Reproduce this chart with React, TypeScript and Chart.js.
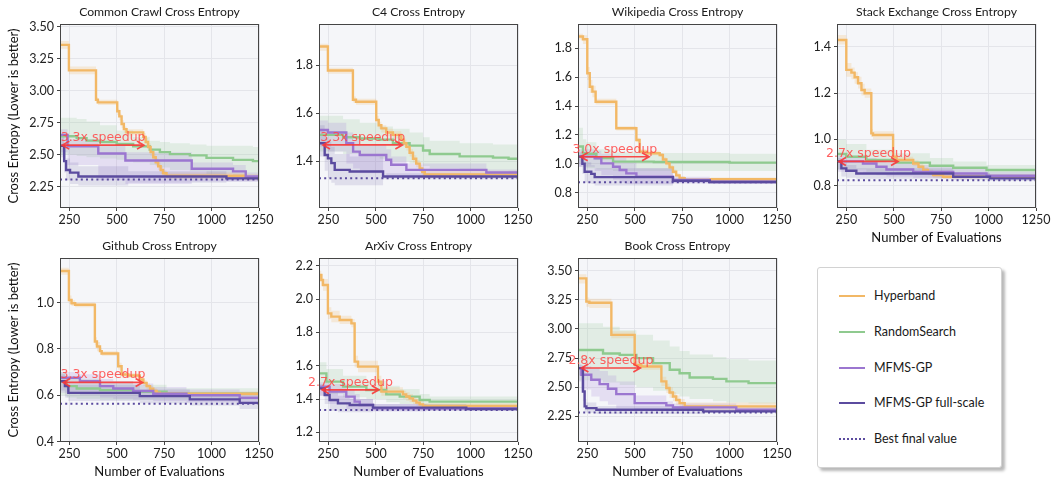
import React, { useEffect, useRef } from 'react';
import { Chart, registerables } from 'chart.js';

Chart.register(...registerables);

// ---------- shared axis / legend data ----------
const xTickValues = [250, 500, 750, 1000, 1250];
const xRange = [200, 1250];
const legendLabels = ['Hyperband', 'RandomSearch', 'MFMS-GP', 'MFMS-GP full-scale', 'Best final value'];
const lineColors = ['#f2b866', '#8fca8f', '#9b76d0', '#5b4b9f'];
const bandColors = ['rgba(242,184,102,0.22)', 'rgba(143,202,143,0.2)', 'rgba(155,118,208,0.18)', 'rgba(91,75,159,0.14)'];
const bestColor = '#5b4b9f';

const panelTitles = [
  'Common Crawl Cross Entropy', 'C4 Cross Entropy', 'Wikipedia Cross Entropy', 'Stack Exchange Cross Entropy',
  'Github Cross Entropy', 'ArXiv Cross Entropy', 'Book Cross Entropy',
];
const yMins = [2.083, 1.205, 0.694, 0.704, 0.398, 1.142, 2.03];
const yMaxs = [3.523, 1.972, 1.968, 1.498, 1.192, 2.246, 3.609];
const yDecimals = [2, 1, 1, 1, 1, 1, 2];
const ccYTicks = [2.25, 2.5, 2.75, 3.0, 3.25, 3.5];
const c4YTicks = [1.4, 1.6, 1.8];
const wikiYTicks = [0.8, 1.0, 1.2, 1.4, 1.6, 1.8];
const stackYTicks = [0.8, 1.0, 1.2, 1.4];
const githubYTicks = [0.4, 0.6, 0.8, 1.0];
const arxivYTicks = [1.2, 1.4, 1.6, 1.8, 2.0, 2.2];
const bookYTicks = [2.25, 2.5, 2.75, 3.0, 3.25, 3.5];

const bestFinalValues = [2.307, 1.329, 0.872, 0.824, 0.563, 1.334, 2.284];
const speedupLabels = ['3.3x speedup', '3.3x speedup', '3.0x speedup', '2.7x speedup', '3.3x speedup', '2.7x speedup', '2.8x speedup'];
const arrowStarts = [212, 221, 214, 210, 217, 216, 218];
const arrowEnds = [643, 640, 575, 522, 636, 516, 529];
const arrowLevels = [2.575, 1.468, 1.049, 0.905, 0.655, 1.455, 2.665];

// each row: [evaluations, mean, lower band, upper band]
// ---- Common Crawl ----
const ccHyperband = [
  [200, 3.36, 3.33, 3.39], [247, 3.16, 3.13, 3.19], [390, 2.93, 2.9, 2.95], [400, 2.91, 2.89, 2.93],
  [502, 2.84, 2.81, 2.86], [513, 2.8, 2.77, 2.82], [525, 2.74, 2.71, 2.77], [537, 2.7, 2.67, 2.72],
  [551, 2.675, 2.65, 2.7], [639, 2.64, 2.61, 2.67], [652, 2.6, 2.57, 2.63], [665, 2.56, 2.53, 2.59],
  [678, 2.52, 2.49, 2.55], [692, 2.48, 2.45, 2.51], [705, 2.44, 2.41, 2.47], [718, 2.41, 2.38, 2.44],
  [731, 2.38, 2.35, 2.41], [744, 2.355, 2.33, 2.38], [762, 2.335, 2.31, 2.36], [1180, 2.325, 2.3, 2.35],
  [1250, 2.325, 2.3, 2.35],
];
const ccRandom = [
  [200, 2.645, 2.5, 2.79], [288, 2.63, 2.49, 2.78], [340, 2.61, 2.48, 2.76], [411, 2.6, 2.47, 2.73],
  [499, 2.585, 2.46, 2.69], [586, 2.565, 2.44, 2.64], [674, 2.54, 2.42, 2.61], [727, 2.52, 2.4, 2.6],
  [780, 2.505, 2.38, 2.59], [885, 2.495, 2.37, 2.58], [973, 2.475, 2.35, 2.57], [1113, 2.46, 2.34, 2.57],
  [1218, 2.45, 2.33, 2.56], [1250, 2.45, 2.33, 2.56],
];
const ccMfms = [
  [200, 2.655, 2.52, 2.7], [240, 2.565, 2.42, 2.62], [402, 2.51, 2.3, 2.57], [545, 2.455, 2.27, 2.52],
  [895, 2.39, 2.29, 2.44], [1113, 2.37, 2.29, 2.42], [1180, 2.33, 2.29, 2.36], [1250, 2.33, 2.29, 2.36],
];
const ccFull = [
  [200, 2.57, 2.48, 2.64], [222, 2.45, 2.36, 2.55], [232, 2.38, 2.3, 2.47], [253, 2.36, 2.27, 2.44],
  [297, 2.33, 2.26, 2.41], [560, 2.33, 2.28, 2.37], [1078, 2.315, 2.29, 2.33], [1250, 2.315, 2.29, 2.33],
];
// ---- C4 ----
const c4Hyperband = [
  [200, 1.878, 1.86, 1.89], [247, 1.778, 1.765, 1.79], [379, 1.656, 1.645, 1.67], [395, 1.648, 1.635, 1.66],
  [502, 1.572, 1.56, 1.59], [515, 1.55, 1.535, 1.565], [529, 1.537, 1.52, 1.55], [555, 1.52, 1.505, 1.535],
  [590, 1.51, 1.495, 1.525], [634, 1.49, 1.475, 1.505], [648, 1.475, 1.46, 1.49], [661, 1.46, 1.445, 1.475],
  [678, 1.435, 1.42, 1.45], [696, 1.41, 1.395, 1.425], [713, 1.39, 1.375, 1.405], [731, 1.37, 1.355, 1.385],
  [745, 1.355, 1.34, 1.37], [758, 1.345, 1.33, 1.36], [1250, 1.343, 1.33, 1.355],
];
const c4Random = [
  [200, 1.51, 1.44, 1.59], [327, 1.5, 1.43, 1.575], [415, 1.495, 1.42, 1.56], [520, 1.49, 1.41, 1.545],
  [590, 1.475, 1.4, 1.535], [678, 1.465, 1.39, 1.52], [749, 1.445, 1.38, 1.5], [784, 1.43, 1.37, 1.485],
  [942, 1.42, 1.36, 1.475], [1118, 1.415, 1.36, 1.47], [1200, 1.41, 1.355, 1.47], [1250, 1.41, 1.355, 1.47],
];
const c4Mfms = [
  [200, 1.53, 1.46, 1.57], [247, 1.52, 1.44, 1.56], [344, 1.475, 1.39, 1.52], [380, 1.44, 1.37, 1.49],
  [415, 1.426, 1.35, 1.47], [555, 1.406, 1.34, 1.45], [581, 1.385, 1.34, 1.42], [661, 1.364, 1.34, 1.39],
  [1083, 1.353, 1.34, 1.365], [1250, 1.352, 1.34, 1.365],
];
const c4Full = [
  [200, 1.475, 1.42, 1.55], [230, 1.426, 1.36, 1.5], [247, 1.412, 1.33, 1.48], [265, 1.392, 1.31, 1.46],
  [283, 1.364, 1.3, 1.43], [362, 1.357, 1.3, 1.42], [538, 1.336, 1.325, 1.35], [1250, 1.333, 1.32, 1.345],
];
// ---- Wikipedia ----
const wikiHyperband = [
  [200, 1.881, 1.86, 1.9], [226, 1.862, 1.83, 1.89], [249, 1.627, 1.58, 1.67], [262, 1.534, 1.49, 1.58],
  [276, 1.5, 1.46, 1.54], [293, 1.43, 1.41, 1.45], [402, 1.246, 1.23, 1.26], [508, 1.165, 1.15, 1.18],
  [525, 1.084, 1.07, 1.1], [561, 1.073, 1.06, 1.09], [631, 1.061, 1.05, 1.075], [648, 1.03, 1.02, 1.045],
  [666, 1.003, 0.99, 1.02], [683, 0.975, 0.96, 0.99], [701, 0.945, 0.93, 0.96], [718, 0.92, 0.905, 0.935],
  [736, 0.9, 0.885, 0.915], [763, 0.888, 0.875, 0.9], [900, 0.893, 0.88, 0.905], [1250, 0.895, 0.88, 0.905],
];
const wikiRandom = [
  [200, 1.12, 1.0, 1.25], [226, 1.073, 0.98, 1.17], [244, 1.07, 0.97, 1.15], [297, 1.04, 0.96, 1.1],
  [385, 1.015, 0.95, 1.08], [600, 1.012, 0.95, 1.075], [1000, 1.008, 0.95, 1.07], [1250, 1.008, 0.95, 1.07],
];
const wikiMfms = [
  [200, 1.05, 0.98, 1.1], [288, 1.038, 0.95, 1.09], [323, 1.003, 0.92, 1.07], [385, 0.98, 0.89, 1.06],
  [420, 0.957, 0.87, 1.04], [455, 0.934, 0.86, 1.02], [508, 0.911, 0.86, 0.97], [701, 0.888, 0.865, 0.91],
  [895, 0.876, 0.86, 0.89], [1250, 0.875, 0.86, 0.89],
];
const wikiFull = [
  [200, 1.05, 0.98, 1.08], [223, 1.0, 0.93, 1.06], [235, 0.945, 0.87, 1.01], [270, 0.93, 0.86, 0.99],
  [288, 0.908, 0.85, 0.97], [701, 0.883, 0.865, 0.9], [895, 0.874, 0.86, 0.885], [1250, 0.872, 0.86, 0.885],
];
// ---- Stack Exchange ----
const stackHyperband = [
  [200, 1.429, 1.41, 1.45], [249, 1.3, 1.27, 1.33], [276, 1.288, 1.26, 1.31], [293, 1.268, 1.24, 1.29],
  [311, 1.242, 1.22, 1.27], [329, 1.213, 1.19, 1.24], [346, 1.199, 1.18, 1.22], [381, 1.026, 1.01, 1.045],
  [390, 1.019, 1.0, 1.035], [496, 0.925, 0.91, 0.94], [514, 0.911, 0.9, 0.925], [602, 0.896, 0.885, 0.91],
  [630, 0.882, 0.87, 0.895], [655, 0.868, 0.855, 0.88], [680, 0.857, 0.845, 0.87], [707, 0.846, 0.835, 0.86],
  [760, 0.839, 0.83, 0.85], [1250, 0.835, 0.825, 0.845],
];
const stackRandom = [
  [200, 0.937, 0.87, 1.0], [249, 0.925, 0.87, 0.98], [355, 0.911, 0.86, 0.955], [514, 0.9, 0.855, 0.94],
  [690, 0.886, 0.85, 0.92], [813, 0.878, 0.845, 0.905], [989, 0.868, 0.845, 0.89], [1250, 0.865, 0.845, 0.888],
];
const stackMfms = [
  [200, 0.905, 0.86, 0.93], [337, 0.896, 0.85, 0.92], [408, 0.882, 0.845, 0.91], [461, 0.87, 0.84, 0.9],
  [602, 0.86, 0.835, 0.89], [813, 0.853, 0.835, 0.875], [989, 0.843, 0.83, 0.86], [1250, 0.842, 0.83, 0.855],
];
const stackFull = [
  [200, 0.905, 0.87, 0.92], [223, 0.875, 0.84, 0.9], [249, 0.865, 0.835, 0.89], [302, 0.853, 0.83, 0.875],
  [813, 0.839, 0.825, 0.855], [1007, 0.832, 0.82, 0.845], [1250, 0.83, 0.82, 0.84],
];
// ---- Github ----
const githubHyperband = [
  [200, 1.136, 1.12, 1.15], [247, 1.011, 0.995, 1.03], [261, 0.997, 0.985, 1.01], [280, 0.99, 0.98, 1.0],
  [384, 0.832, 0.815, 0.85], [395, 0.81, 0.79, 0.83], [411, 0.79, 0.775, 0.805], [420, 0.78, 0.77, 0.79],
  [507, 0.725, 0.71, 0.74], [525, 0.689, 0.675, 0.7], [560, 0.685, 0.675, 0.695], [621, 0.668, 0.655, 0.68],
  [640, 0.653, 0.64, 0.665], [657, 0.639, 0.625, 0.65], [675, 0.628, 0.615, 0.64], [692, 0.618, 0.605, 0.63],
  [710, 0.611, 0.6, 0.62], [727, 0.606, 0.595, 0.615], [1250, 0.602, 0.59, 0.61],
];
const githubRandom = [
  [200, 0.66, 0.6, 0.7], [235, 0.639, 0.59, 0.68], [288, 0.629, 0.585, 0.67], [411, 0.622, 0.58, 0.66],
  [586, 0.615, 0.58, 0.645], [762, 0.606, 0.58, 0.63], [1250, 0.603, 0.58, 0.625],
];
const githubMfms = [
  [200, 0.675, 0.61, 0.7], [305, 0.66, 0.6, 0.69], [411, 0.639, 0.59, 0.67], [481, 0.629, 0.585, 0.66],
  [586, 0.618, 0.58, 0.65], [692, 0.606, 0.575, 0.635], [867, 0.6, 0.57, 0.625], [1148, 0.589, 0.56, 0.615],
  [1250, 0.589, 0.56, 0.615],
];
const githubFull = [
  [200, 0.66, 0.62, 0.69], [226, 0.639, 0.59, 0.67], [244, 0.61, 0.575, 0.645], [621, 0.596, 0.565, 0.625],
  [885, 0.582, 0.555, 0.61], [1148, 0.567, 0.54, 0.59], [1250, 0.567, 0.54, 0.59],
];
// ---- ArXiv ----
const arxivHyperband = [
  [200, 2.144, 2.12, 2.17], [212, 2.114, 2.08, 2.15], [221, 2.084, 2.05, 2.12], [247, 1.914, 1.88, 1.95],
  [265, 1.894, 1.86, 1.93], [309, 1.874, 1.85, 1.9], [371, 1.854, 1.83, 1.88], [388, 1.624, 1.59, 1.66],
  [406, 1.594, 1.56, 1.63], [511, 1.504, 1.47, 1.54], [529, 1.444, 1.42, 1.47], [643, 1.428, 1.4, 1.45],
  [660, 1.415, 1.39, 1.44], [678, 1.404, 1.38, 1.43], [696, 1.39, 1.37, 1.41], [714, 1.378, 1.36, 1.4],
  [731, 1.368, 1.35, 1.39], [749, 1.358, 1.345, 1.375], [1250, 1.355, 1.34, 1.37],
];
const arxivRandom = [
  [200, 1.554, 1.46, 1.62], [239, 1.504, 1.43, 1.58], [327, 1.474, 1.41, 1.54], [450, 1.454, 1.4, 1.51],
  [555, 1.428, 1.38, 1.48], [626, 1.414, 1.37, 1.46], [731, 1.394, 1.36, 1.43], [784, 1.384, 1.36, 1.415],
  [1250, 1.384, 1.36, 1.41],
];
const arxivMfms = [
  [200, 1.474, 1.42, 1.5], [256, 1.444, 1.37, 1.49], [344, 1.414, 1.34, 1.46], [388, 1.384, 1.33, 1.43],
  [415, 1.364, 1.33, 1.4], [485, 1.344, 1.325, 1.37], [766, 1.343, 1.33, 1.36], [1250, 1.343, 1.33, 1.355],
];
const arxivFull = [
  [200, 1.464, 1.42, 1.49], [230, 1.424, 1.37, 1.46], [256, 1.394, 1.33, 1.44], [300, 1.374, 1.32, 1.42],
  [362, 1.364, 1.32, 1.4], [485, 1.348, 1.33, 1.37], [977, 1.34, 1.33, 1.35], [1250, 1.338, 1.33, 1.35],
];
// ---- Book ----
const bookHyperband = [
  [200, 3.434, 3.39, 3.47], [244, 3.235, 3.19, 3.27], [260, 3.225, 3.18, 3.26], [376, 2.949, 2.92, 2.98],
  [499, 2.692, 2.66, 2.73], [534, 2.678, 2.65, 2.71], [640, 2.55, 2.51, 2.59], [666, 2.493, 2.45, 2.53],
  [683, 2.455, 2.41, 2.5], [701, 2.421, 2.38, 2.46], [718, 2.39, 2.35, 2.43], [736, 2.364, 2.32, 2.4],
  [763, 2.336, 2.3, 2.37], [1250, 2.333, 2.3, 2.37],
];
const bookRandom = [
  [200, 2.82, 2.56, 3.05], [332, 2.79, 2.54, 3.02], [420, 2.778, 2.52, 2.99], [508, 2.75, 2.5, 2.95],
  [596, 2.707, 2.47, 2.9], [684, 2.65, 2.44, 2.85], [736, 2.62, 2.42, 2.81], [789, 2.584, 2.4, 2.78],
  [912, 2.572, 2.38, 2.76], [983, 2.55, 2.37, 2.74], [1100, 2.535, 2.36, 2.73], [1250, 2.53, 2.36, 2.73],
];
const bookMfms = [
  [200, 2.664, 2.55, 2.7], [218, 2.607, 2.48, 2.68], [270, 2.564, 2.42, 2.66], [314, 2.527, 2.38, 2.64],
  [358, 2.487, 2.35, 2.6], [402, 2.441, 2.32, 2.55], [499, 2.364, 2.3, 2.43], [666, 2.344, 2.3, 2.38],
  [701, 2.327, 2.3, 2.36], [1035, 2.307, 2.29, 2.33], [1250, 2.305, 2.29, 2.32],
];
const bookFull = [
  [200, 2.664, 2.6, 2.69], [226, 2.464, 2.38, 2.56], [235, 2.336, 2.29, 2.4], [244, 2.321, 2.28, 2.37],
  [297, 2.307, 2.27, 2.34], [860, 2.293, 2.28, 2.31], [1250, 2.29, 2.28, 2.3],
];

const panelSeries = [
  [ccHyperband, ccRandom, ccMfms, ccFull],
  [c4Hyperband, c4Random, c4Mfms, c4Full],
  [wikiHyperband, wikiRandom, wikiMfms, wikiFull],
  [stackHyperband, stackRandom, stackMfms, stackFull],
  [githubHyperband, githubRandom, githubMfms, githubFull],
  [arxivHyperband, arxivRandom, arxivMfms, arxivFull],
  [bookHyperband, bookRandom, bookMfms, bookFull],
];
const panelYTicks = [ccYTicks, c4YTicks, wikiYTicks, stackYTicks, githubYTicks, arxivYTicks, bookYTicks];

// ---------- layout ----------
const plotLefts = [60, 319, 578, 837];
const plotTops = [24, 258];
const plotW = 199;
const plotH = 184;
const titleH = 22;
const xAxisH = 40;
const padRight = 18;
const FONT = "Lato, 'DejaVu Sans', sans-serif";

function Panel({ index }: { index: number }) {
  const ref = useRef<HTMLCanvasElement | null>(null);
  const col = index % 4;
  const row = Math.floor(index / 4);
  const padLeft = col === 0 ? 2 : 0;
  const yW = col === 0 ? 58 : 45;
  const left = plotLefts[col] - yW - padLeft;
  const top = plotTops[row] - titleH;
  const width = padLeft + yW + plotW + padRight;
  const height = titleH + plotH + xAxisH;
  const showXTitle = index >= 3;

  useEffect(() => {
    const series = panelSeries[index];
    const datasets: any[] = [];
    const bandOrder = [13, 14, 12, 11];
    series.forEach((rows, s) => {
      const loIdx = datasets.length;
      datasets.push({
        data: rows.map((r) => ({ x: r[0], y: r[2] })),
        borderWidth: 0, borderColor: 'rgba(0,0,0,0)', pointRadius: 0, stepped: true, fill: false, order: bandOrder[s],
      });
      datasets.push({
        data: rows.map((r) => ({ x: r[0], y: r[3] })),
        borderWidth: 0, borderColor: 'rgba(0,0,0,0)', pointRadius: 0, stepped: true,
        fill: { target: loIdx }, backgroundColor: bandColors[s], order: bandOrder[s],
      });
    });
    const lineOrder = [3, 4, 2, 1];
    series.forEach((rows, s) => {
      datasets.push({
        data: rows.map((r) => ({ x: r[0], y: r[1] })),
        borderColor: lineColors[s], borderWidth: 2.4, pointRadius: 0, stepped: true, fill: false, order: lineOrder[s],
      });
    });
    datasets.push({
      data: [{ x: xRange[0], y: bestFinalValues[index] }, { x: xRange[1], y: bestFinalValues[index] }],
      borderColor: bestColor, borderWidth: 2, borderDash: [2, 3.2], pointRadius: 0, fill: false, order: 1.5,
    });

    const yTicks = panelYTicks[index];
    const dec = yDecimals[index];

    const framePlugin = {
      id: 'frameAndNotes',
      beforeDraw(chart: any) {
        const { ctx, chartArea: a } = chart;
        ctx.save();
        ctx.fillStyle = '#f5f6f9';
        ctx.fillRect(a.left, a.top, a.right - a.left, a.bottom - a.top);
        ctx.restore();
      },
      afterDatasetsDraw(chart: any) {
        const { ctx, chartArea: a, scales } = chart;
        ctx.save();
        ctx.strokeStyle = '#454545';
        ctx.lineWidth = 1;
        ctx.strokeRect(a.left + 0.5, a.top + 0.5, a.right - a.left - 1, a.bottom - a.top - 1);
        // speedup arrow
        const x1 = scales.x.getPixelForValue(arrowStarts[index]);
        const x2 = scales.x.getPixelForValue(arrowEnds[index]);
        const y = scales.y.getPixelForValue(arrowLevels[index]);
        ctx.strokeStyle = 'rgba(250,55,55,0.9)';
        ctx.lineWidth = 1.7;
        ctx.beginPath();
        ctx.moveTo(x1, y);
        ctx.lineTo(x2, y);
        ctx.moveTo(x1 + 7, y - 4);
        ctx.lineTo(x1, y);
        ctx.lineTo(x1 + 7, y + 4);
        ctx.moveTo(x2 - 7, y - 4);
        ctx.lineTo(x2, y);
        ctx.lineTo(x2 - 7, y + 4);
        ctx.stroke();
        ctx.fillStyle = 'rgba(255,70,70,0.85)';
        ctx.font = "12.5px 'DejaVu Sans', sans-serif";
        ctx.textAlign = 'center';
        ctx.textBaseline = 'alphabetic';
        ctx.fillText(speedupLabels[index], (x1 + x2) / 2, y - 4);
        ctx.restore();
      },
    };

    const chart = new Chart(ref.current as HTMLCanvasElement, {
      type: 'line',
      data: { datasets },
      options: {
        animation: false,
        responsive: false,
        maintainAspectRatio: false,
        events: [],
        layout: { autoPadding: false, padding: { left: padLeft, right: padRight, top: 0, bottom: 0 } },
        plugins: {
          legend: { display: false },
          tooltip: { enabled: false },
          title: {
            display: true,
            text: panelTitles[index],
            fullSize: false,
            color: '#1a1a1a',
            font: { family: FONT, size: 12.2, weight: 'normal', lineHeight: '14px' },
            padding: { top: 3, bottom: 5 },
          },
        },
        scales: {
          x: {
            type: 'linear',
            min: xRange[0],
            max: xRange[1],
            afterBuildTicks: (s: any) => { s.ticks = xTickValues.map((v) => ({ value: v })); },
            afterFit: (s: any) => { s.height = xAxisH; },
            grid: { color: '#e4e5ea', lineWidth: 1, tickLength: 3, tickColor: '#444' },
            border: { display: false },
            ticks: { color: '#222', font: { family: FONT, size: 12.5 }, padding: 1, maxRotation: 0, callback: (v: any) => String(v) },
            title: {
              display: showXTitle, text: 'Number of Evaluations', color: '#111',
              font: { family: FONT, size: 13 }, padding: { top: 0, bottom: 2 },
            },
          },
          y: {
            type: 'linear',
            min: yMins[index],
            max: yMaxs[index],
            afterBuildTicks: (s: any) => { s.ticks = yTicks.map((v) => ({ value: v })); },
            afterFit: (s: any) => { s.width = yW; },
            grid: { color: '#e4e5ea', lineWidth: 1, tickLength: 3, tickColor: '#444' },
            border: { display: false },
            ticks: { color: '#222', font: { family: FONT, size: 12.5 }, padding: 3, callback: (v: any) => Number(v).toFixed(dec) },
            title: {
              display: col === 0, text: 'Cross Entropy (Lower is better)', color: '#111',
              font: { family: FONT, size: 13 }, padding: { top: 4, bottom: 0 },
            },
          },
        },
      } as any,
      plugins: [framePlugin],
    });
    return () => chart.destroy();
  }, [index]);

  return (
    <canvas
      ref={ref}
      width={width}
      height={height}
      style={{ position: 'absolute', left, top, width, height }}
    />
  );
}

function Legend() {
  const boxLeft = 817;
  const boxTop = 267;
  return (
    <div
      style={{
        position: 'absolute', left: boxLeft, top: boxTop, width: 185, height: 201, boxSizing: 'border-box',
        border: '1px solid #d2d2d2', borderRadius: 3, background: '#fff',
        boxShadow: '3px 3px 3px rgba(0,0,0,0.28)', fontFamily: FONT,
      }}
    >
      {legendLabels.map((label, i) => {
        const cy = 28 + i * 35.8;
        const isBest = i === 4;
        return (
          <React.Fragment key={label}>
            <div
              style={{
                position: 'absolute', left: 21, top: cy - 1, width: 26, height: 0,
                borderTop: isBest ? `2px dotted ${bestColor}` : `2.5px solid ${lineColors[i]}`,
              }}
            />
            <div
              style={{
                position: 'absolute', left: 56, top: cy - 8, height: 16, lineHeight: '16px',
                fontSize: 12.5, color: '#1a1a1a', whiteSpace: 'nowrap',
              }}
            >
              {label}
            </div>
          </React.Fragment>
        );
      })}
    </div>
  );
}

export default function App() {
  return (
    <div style={{ position: 'absolute', left: 0, top: 0, width: 1052, height: 481, background: '#fff', overflow: 'hidden' }}>
      {panelTitles.map((t, i) => (
        <Panel key={t} index={i} />
      ))}
      <Legend />
    </div>
  );
}
